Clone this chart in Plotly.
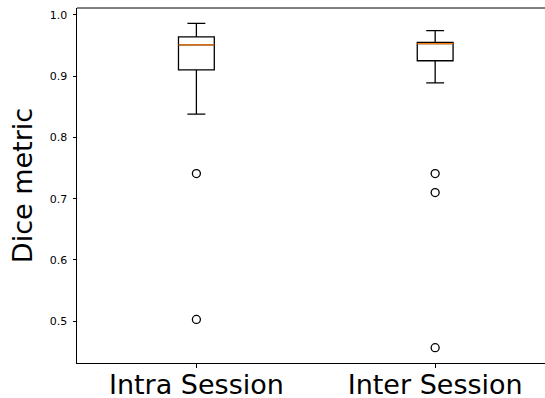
import plotly.graph_objects as go

categories = ["Intra Session", "Inter Session"]
positions = [1, 2]
q1 = [0.910, 0.925]
median = [0.951, 0.953]
q3 = [0.964, 0.955]
lower_whisker = [0.838, 0.889]
upper_whisker = [0.986, 0.974]
outliers = [[0.741, 0.503], [0.741, 0.710, 0.457]]
y_ticks = [0.5, 0.6, 0.7, 0.8, 0.9, 1.0]

fig = go.Figure()

fig.add_trace(go.Box(
    x=positions, q1=q1, median=median, q3=q3,
    lowerfence=lower_whisker, upperfence=upper_whisker,
    width=0.15, whiskerwidth=0.5,
    line=dict(color="black", width=1.3),
    fillcolor="rgba(0,0,0,0)", boxpoints=False, hoverinfo="skip",
    showlegend=False,
))
# median lines in orange
fig.add_trace(go.Box(
    x=positions, q1=median, median=median, q3=median,
    lowerfence=median, upperfence=median,
    width=0.15, whiskerwidth=0,
    line=dict(color="#ff7f0e", width=1.3),
    fillcolor="rgba(0,0,0,0)", boxpoints=False, hoverinfo="skip",
    showlegend=False,
))
for pos, outs in zip(positions, outliers):
    fig.add_trace(go.Scatter(
        x=[pos] * len(outs), y=outs, mode="markers",
        marker=dict(symbol="circle-open", size=8, color="black",
                    line=dict(width=1.3)),
        showlegend=False, hoverinfo="skip",
    ))

fig.add_shape(type="line", xref="paper", yref="paper", x0=0, x1=1, y0=1, y1=1,
              line=dict(color="black", width=1))

fig.update_layout(
    width=545, height=398,
    margin=dict(l=77, r=0, t=8, b=35),
    paper_bgcolor="white", plot_bgcolor="white",
    boxmode="overlay",
    font=dict(family="DejaVu Sans", color="black"),
    xaxis=dict(
        range=[0.5, 2.46], tickvals=positions, ticktext=categories,
        showgrid=False, zeroline=False, showline=True, linecolor="black", linewidth=1,
        ticks="outside", ticklen=3.5, tickwidth=1, tickcolor="black",
        tickfont=dict(size=27, family="DejaVu Sans"), automargin=False,
        ticklabelstandoff=-6,
    ),
    yaxis=dict(
        range=[0.432, 1.011], tickvals=y_ticks, ticktext=[f"{v:.1f}" for v in y_ticks],
        showgrid=False, zeroline=False, showline=True, linecolor="black", linewidth=1,
        ticks="outside", ticklen=3.5, tickwidth=1, tickcolor="black",
        tickfont=dict(size=11, family="DejaVu Sans"), automargin=False,
        ticklabelstandoff=3,
        title=dict(text="Dice metric", font=dict(size=27, family="DejaVu Sans"), standoff=9),
    ),
)

fig.write_html("out.html", config={"displayModeBar": False},
               post_script="document.body.style.margin='0';")
